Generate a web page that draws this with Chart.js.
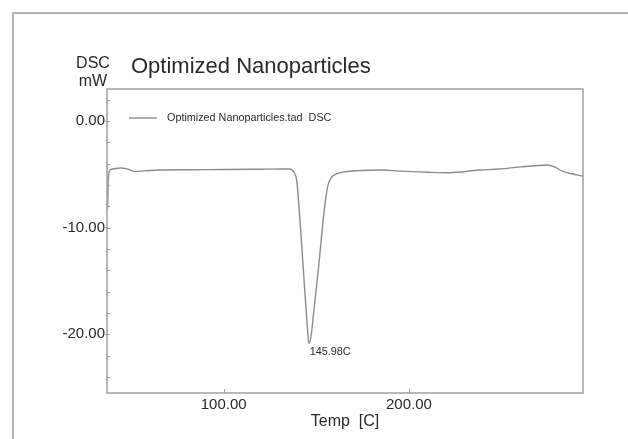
<!DOCTYPE html>
<html>
<head>
<meta charset="utf-8">
<title>DSC - Optimized Nanoparticles</title>
<script src="https://cdn.jsdelivr.net/npm/chart.js@4.4.1/dist/chart.umd.min.js"></script>
<style>
  html, body { margin: 0; padding: 0; background: #fff; }
  canvas { display: block; }
</style>
</head>
<body>
<canvas id="dscChart" width="628" height="439"></canvas>
<script>
// DSC trace: temperature [C] and heat flow [mW]
const tempC = [
  37.3, 37.6, 38.1, 39.0, 41.5, 44.5, 48.0, 52.0, 57.0, 65.0,
  80.0, 100.0, 120.0, 132.0, 135.4, 138.1, 139.4, 140.4, 141.7, 143.5,
  145.3, 145.98, 147.1, 148.9, 150.7, 152.5, 154.3, 156.1, 157.9, 160.6,
  164.2, 171.4, 185.9, 195.0, 210.0, 222.0, 238.0, 249.0, 260.0, 268.0,
  274.6, 278.5, 282.7, 288.0, 294.0
];
const dscMw = [
  -8.2, -6.0, -4.75, -4.55, -4.45, -4.4, -4.5, -4.72, -4.68, -4.6,
  -4.57, -4.55, -4.52, -4.5, -4.5, -4.85, -5.54, -7.42, -10.52, -15.21,
  -19.62, -20.85, -20.25, -17.44, -14.62, -11.46, -8.36, -6.17, -5.35, -4.98,
  -4.79, -4.67, -4.6, -4.7, -4.8, -4.85, -4.6, -4.5, -4.3, -4.2,
  -4.13, -4.3, -4.7, -4.95, -5.16
];

const xTickValues = [100, 200];
const yTickValues = [0, -10, -20];
const yMinorStep = 2;

const chartTitle = 'Optimized Nanoparticles';
const seriesName = 'Optimized Nanoparticles.tad  DSC';
const xTitle = 'Temp  [C]';
const yUnits = ['DSC', 'mW'];

const FONT = "'Liberation Sans', Arial, sans-serif";
const lineGray = '#8c8c8c';
const axisGray = '#a0a0a0';
const textColor = '#2a2a2a';

Chart.defaults.font.family = FONT;

const points = tempC.map((t, i) => ({ x: t, y: dscMw[i] }));

// the lowest point of the trace gets a temperature label
let peakIdx = 0;
dscMw.forEach((v, i) => { if (v < dscMw[peakIdx]) peakIdx = i; });

const dscDecor = {
  id: 'dscDecor',
  beforeDraw(chart) {
    const ctx = chart.ctx;
    ctx.save();
    ctx.fillStyle = '#fff';
    ctx.fillRect(0, 0, chart.width, chart.height);
    // outer frame (left and top edges)
    ctx.strokeStyle = '#b4b4b4';
    ctx.lineWidth = 2;
    ctx.beginPath();
    ctx.moveTo(13, chart.height);
    ctx.lineTo(13, 13);
    ctx.lineTo(chart.width, 13);
    ctx.stroke();
    ctx.restore();
  },
  afterDraw(chart) {
    const ctx = chart.ctx;
    const a = chart.chartArea;
    const xs = chart.scales.x;
    const ys = chart.scales.y;
    ctx.save();

    // plot box
    ctx.strokeStyle = axisGray;
    ctx.lineWidth = 1.5;
    ctx.strokeRect(a.left, a.top, a.right - a.left, a.bottom - a.top);

    // inward tick marks
    ctx.lineWidth = 1;
    ctx.beginPath();
    for (let v = Math.ceil(ys.min / yMinorStep) * yMinorStep; v <= ys.max; v += yMinorStep) {
      const py = Math.round(ys.getPixelForValue(v)) + 0.5;
      ctx.moveTo(a.left, py);
      ctx.lineTo(a.left + 3, py);
    }
    xTickValues.forEach(v => {
      const px = Math.round(xs.getPixelForValue(v)) + 0.5;
      ctx.moveTo(px, a.bottom);
      ctx.lineTo(px, a.bottom - 4);
    });
    ctx.stroke();

    // chart title and y units
    ctx.fillStyle = textColor;
    ctx.textBaseline = 'alphabetic';
    ctx.textAlign = 'left';
    ctx.font = `22px ${FONT}`;
    ctx.fillText(chartTitle, 131, 73);
    ctx.textAlign = 'center';
    ctx.font = `16px ${FONT}`;
    ctx.fillText(yUnits[0], 93, 68);
    ctx.fillText(yUnits[1], 93, 86);

    // legend inside the plot
    ctx.strokeStyle = lineGray;
    ctx.lineWidth = 1.4;
    ctx.beginPath();
    ctx.moveTo(a.left + 22, a.top + 29);
    ctx.lineTo(a.left + 50, a.top + 29);
    ctx.stroke();
    ctx.textAlign = 'left';
    ctx.textBaseline = 'middle';
    ctx.font = `10.8px ${FONT}`;
    ctx.fillText(seriesName, a.left + 60, a.top + 29);

    // peak temperature label
    const px = xs.getPixelForValue(tempC[peakIdx]);
    const py = ys.getPixelForValue(dscMw[peakIdx]);
    ctx.textBaseline = 'top';
    ctx.font = `10.8px ${FONT}`;
    ctx.fillText(tempC[peakIdx].toFixed(2) + 'C', px + 1, py + 3);

    ctx.restore();
  }
};

new Chart(document.getElementById('dscChart'), {
  type: 'line',
  data: {
    datasets: [{
      label: seriesName,
      data: points,
      borderColor: lineGray,
      borderWidth: 1.4,
      pointRadius: 0,
      fill: false,
      cubicInterpolationMode: 'monotone'
    }]
  },
  options: {
    responsive: false,
    animation: false,
    layout: { padding: { top: 89, right: 45, left: 0, bottom: 0 } },
    plugins: {
      legend: { display: false },
      title: { display: false },
      tooltip: { enabled: false }
    },
    scales: {
      x: {
        type: 'linear',
        min: 37,
        max: 294,
        afterBuildTicks: scale => { scale.ticks = xTickValues.map(v => ({ value: v })); },
        afterFit: scale => { scale.height = 46; },
        grid: { display: false, drawTicks: false },
        border: { display: false },
        ticks: {
          padding: 3,
          color: textColor,
          font: { size: 15 },
          maxRotation: 0,
          callback: v => v.toFixed(2)
        },
        title: {
          display: true,
          text: xTitle,
          color: textColor,
          font: { size: 16 },
          padding: { top: 0, bottom: 8 }
        }
      },
      y: {
        min: -25.5,
        max: 3,
        afterBuildTicks: scale => { scale.ticks = yTickValues.map(v => ({ value: v })); },
        afterFit: scale => { scale.width = 107; },
        grid: { drawOnChartArea: false, drawTicks: true, tickLength: 2, color: axisGray },
        border: { display: false },
        ticks: {
          padding: 0,
          color: textColor,
          font: { size: 15 },
          callback: v => v.toFixed(2)
        }
      }
    }
  },
  plugins: [dscDecor]
});
</script>
</body>
</html>
